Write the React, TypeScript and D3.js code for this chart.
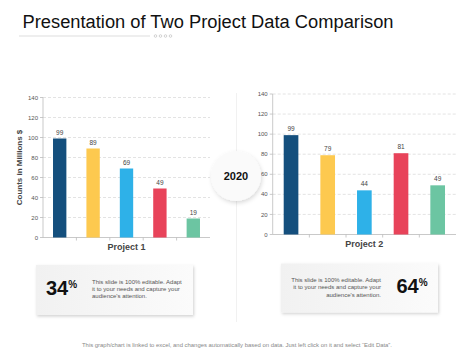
import React from "react";
import * as d3 from "d3";

const categories = ["A", "B", "C", "D", "E"];
const project1Values = [99, 89, 69, 49, 19];
const project2Values = [99, 79, 44, 81, 49];
const barColors = ["#144f7d", "#fdc94f", "#2eb1e8", "#e8435a", "#6cc5a2"];
const yTicks = [0, 20, 40, 60, 80, 100, 120, 140];
const percentLeft = "34";
const percentRight = "64";
const bodyLines = ["This slide is 100% editable. Adapt", "it to your needs and capture your", "audience's attention."];
const centerYear = "2020";

const FONT = "Liberation Sans, Arial, sans-serif";

function BarChart({ values, x0, x1, yTop, yBottom, label, showYTitle }: any) {
  const y = d3.scaleLinear().domain([0, 140]).range([yBottom, yTop]);
  const band = d3.scaleBand<string>().domain(categories).range([x0, x1]);
  const step = band.step();
  const bw = step * 0.4;
  return (
    <g>
      {yTicks.map((t) => (
        <g key={t}>
          {t > 0 && (
            <line x1={x0} x2={x1} y1={y(t)} y2={y(t)} stroke="#dcdcdc" strokeWidth={0.8} strokeDasharray="3,2" />
          )}
          <line x1={x0 - 3} x2={x0} y1={y(t)} y2={y(t)} stroke="#bbb" strokeWidth={0.8} />
          <text x={x0 - 5} y={y(t)} dy="0.35em" textAnchor="end" fontSize={6} fill="#555" fontFamily={FONT}>
            {t}
          </text>
        </g>
      ))}
      <line x1={x0} x2={x0} y1={yTop} y2={yBottom} stroke="#bbb" strokeWidth={0.8} />
      <line x1={x0} x2={x1} y1={yBottom} y2={yBottom} stroke="#bbb" strokeWidth={0.8} />
      {categories.slice(1).map((c) => (
        <line key={c} x1={band(c)!} x2={band(c)!} y1={yBottom} y2={yBottom + 3} stroke="#bbb" strokeWidth={0.8} />
      ))}
      {categories.map((c, i) => {
        const cx = band(c)! + step / 2;
        return (
          <g key={c}>
            <rect x={cx - bw / 2} y={y(values[i])} width={bw} height={yBottom - y(values[i])} fill={barColors[i]} />
            <text x={cx} y={y(values[i]) - 4} textAnchor="middle" fontSize={6.5} fill="#444" fontFamily={FONT}>
              {values[i]}
            </text>
          </g>
        );
      })}
      <text x={(x0 + x1) / 2} y={yBottom + 12} textAnchor="middle" fontSize={9} fontWeight="bold" fill="#444" fontFamily={FONT}>
        {label}
      </text>
      {showYTitle && (
        <text
          transform={`translate(${x0 - 21},${(yTop + yBottom) / 2}) rotate(-90)`}
          textAnchor="middle"
          fontSize={8}
          fontWeight="bold"
          fill="#444"
          fontFamily={FONT}
        >
          Counts in Millions $
        </text>
      )}
    </g>
  );
}

export default function App() {
  return (
    <svg width={474} height={355} style={{ position: "absolute", left: 0, top: 0, background: "#fff" }}>
      <defs>
        <linearGradient id="boxg" x1="0" y1="0" x2="1" y2="0">
          <stop offset="0" stopColor="#f1f1f1" />
          <stop offset="1" stopColor="#fbfbfb" />
        </linearGradient>
        <filter id="sh" x="-20%" y="-20%" width="140%" height="150%">
          <feDropShadow dx="1" dy="1.5" stdDeviation="1.5" floodColor="#000" floodOpacity="0.18" />
        </filter>
        <filter id="csh" x="-30%" y="-30%" width="160%" height="160%">
          <feDropShadow dx="1" dy="2" stdDeviation="2" floodColor="#000" floodOpacity="0.15" />
        </filter>
      </defs>
      <rect x={0} y={0} width={474} height={355} fill="#fff" />
      <text x={22.5} y={27.5} fontSize={18} fill="#111" fontFamily={FONT} textLength={371} lengthAdjust="spacingAndGlyphs">
        Presentation  of Two Project Data Comparison
      </text>
      <line x1={19} x2={150} y1={36} y2={36} stroke="#ddd" strokeWidth={1.2} />
      {[155.5, 160.5, 165.5, 170.5].map((cx) => (
        <circle key={cx} cx={cx} cy={36} r={1.3} fill="none" stroke="#aaa" strokeWidth={0.5} />
      ))}
      <line x1={236.5} x2={236.5} y1={93} y2={322} stroke="#eee" strokeWidth={0.8} />

      <BarChart values={project1Values} x0={43} x1={210} yTop={97.5} yBottom={237.5} label="Project 1" showYTitle />
      <BarChart values={project2Values} x0={272.7} x1={456} yTop={94} yBottom={234.5} label="Project 2" />

      <circle cx={236} cy={176} r={25} fill="#fafafa" filter="url(#csh)" />
      <text x={236} y={176} dy="0.35em" textAnchor="middle" fontSize={11} fontWeight="bold" fill="#111" fontFamily={FONT}>
        {centerYear}
      </text>

      <rect x={36} y={265} width={157} height={50} fill="url(#boxg)" filter="url(#sh)" />
      <text x={46} y={295} fontSize={20} fontWeight="bold" fill="#111" fontFamily={FONT}>
        {percentLeft}
        <tspan fontSize={10} dy={-7}>%</tspan>
      </text>
      {bodyLines.map((l, i) => (
        <text key={i} x={92} y={283.5 + i * 7.3} fontSize={6} fill="#555" fontFamily={FONT}>
          {l}
        </text>
      ))}

      <rect x={281} y={263.5} width={157} height={49} fill="url(#boxg)" filter="url(#sh)" />
      <text x={396.5} y={293} fontSize={20} fontWeight="bold" fill="#111" fontFamily={FONT}>
        {percentRight}
        <tspan fontSize={10} dy={-7}>%</tspan>
      </text>
      {bodyLines.map((l, i) => (
        <text key={i} x={381} y={282 + i * 7.3} textAnchor="end" fontSize={6} fill="#555" fontFamily={FONT}>
          {l}
        </text>
      ))}

      <text x={237} y={347} textAnchor="middle" fontSize={5.6} fill="#888" fontFamily={FONT} textLength={310} lengthAdjust="spacingAndGlyphs">
        This graph/chart is linked to excel, and changes automatically based on data. Just left click on it and select “Edit Data”.
      </text>
    </svg>
  );
}
